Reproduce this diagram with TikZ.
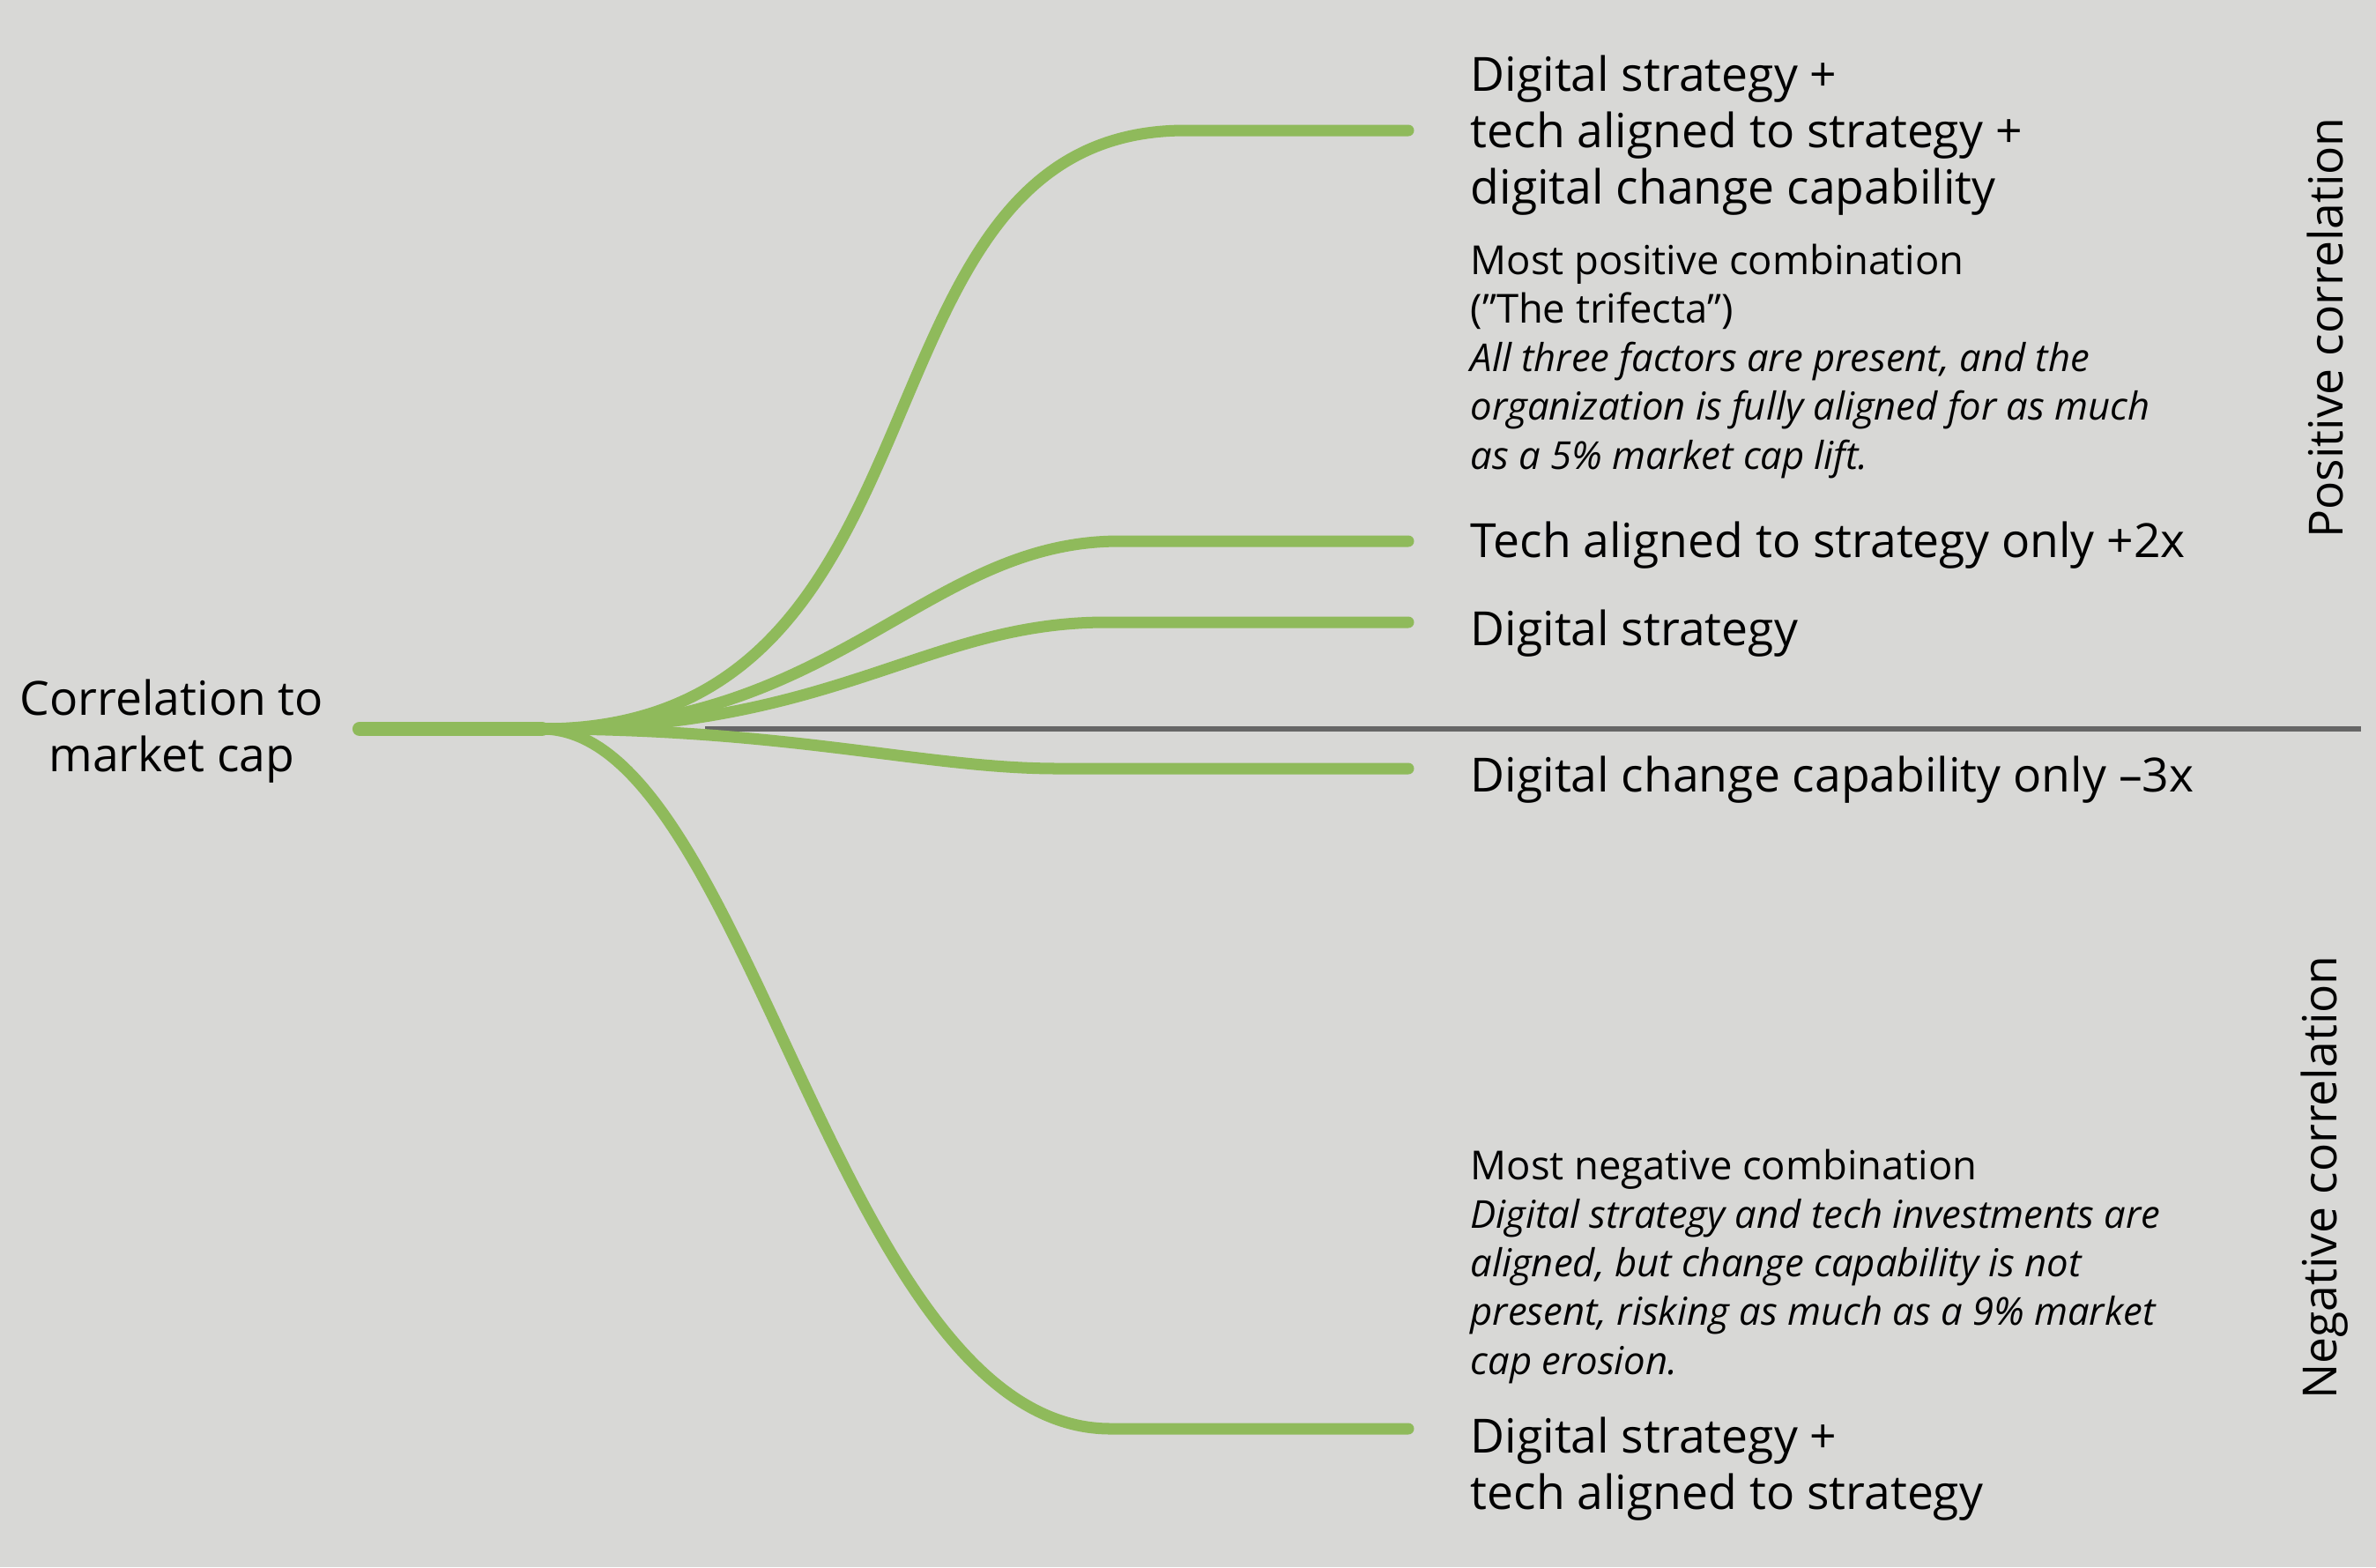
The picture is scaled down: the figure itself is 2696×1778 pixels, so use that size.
\documentclass[tikz,border=0pt]{standalone}
\usepackage{fontspec}
\setmainfont{Open Sans}
\definecolor{leafgreen}{RGB}{143,186,91}
\definecolor{bggray}{RGB}{216,216,214}
\definecolor{axisgray}{RGB}{102,102,102}
\newcommand{\noteit}[1]{{\fontsize{12.4}{15.65}\selectfont\itshape #1}}
\tikzset{
  branch/.style={leafgreen, line width=3.7pt, line cap=round},
  bigtext/.style={font=\fontsize{15.2}{18.1}\selectfont, inner sep=0pt, align=left, anchor=base west},
  smalltext/.style={font=\fontsize{12.9}{15.65}\selectfont, inner sep=0pt, align=left, anchor=base west},
}
\begin{document}
\begin{tikzpicture}[x=0.01cm, y=-0.01cm]
		% Background
		\fill[bggray] (0,0) rectangle (2696,1778);
		\useasboundingbox (0,0) rectangle (2696,1778);
		
		% Points of the tree
		\coordinate (root) at (408,827);
		\coordinate (fork) at (615,827);
		\coordinate (endA) at (1598,148);
		\coordinate (endB) at (1598,614);
		\coordinate (endC) at (1598,706);
		\coordinate (endD) at (1598,872);
		\coordinate (endE) at (1598,1621);
		\coordinate (zeroL) at (800,827);
		\coordinate (zeroR) at (2679,827);
		
		% Zero line
		\draw[axisgray, line width=1.5pt] (zeroL) -- (zeroR);
		
		% Trunk
		\draw[branch, line width=4.6pt] (root) -- (fork);
		
		% Branches
		\draw[branch] (fork) .. controls (1100,827) and (950,148) .. (1345,148) -- (endA);
		\draw[branch] (fork) .. controls (950,827) and (1050,614) .. (1270,614) -- (endB);
		\draw[branch] (fork) .. controls (950,827) and (1050,706) .. (1255,706) -- (endC);
		\draw[branch] (fork) .. controls (900,827) and (1050,872) .. (1200,872) -- (endD);
		\draw[branch] (fork) .. controls (850,827) and (950,1621) .. (1260,1621) -- (endE);
		
		% Labels (base = last line)
		\node[bigtext, align=center, anchor=base] (rootlabel) at (195,875) {Correlation to\\market cap};
		\node[bigtext] (trifecta) at (1668,231) {Digital strategy +\\tech aligned to strategy +\\digital change capability};
		\node[smalltext] (trifectanote) at (1668,532) {Most positive combination\\(”The trifecta”)\\\noteit{All three factors are present, and the}\\\noteit{organization is fully aligned for as much}\\\noteit{as a 5\% market cap lift.}};
		\node[bigtext] (techonly) at (1668,632) {Tech aligned to strategy only +2x};
		\node[bigtext] (digonly) at (1668,732) {Digital strategy};
		\node[bigtext] (changeonly) at (1668,898) {Digital change capability only –3x};
		\node[smalltext] (negnote) at (1668,1559) {Most negative combination\\\noteit{Digital strategy and tech investments are}\\\noteit{aligned, but change capability is not}\\\noteit{present, risking as much as a 9\% market}\\\noteit{cap erosion.}};
		\node[bigtext] (negcombo) at (1668,1712) {Digital strategy +\\tech aligned to strategy};
		
		% Side labels
		\node[bigtext, rotate=90, anchor=center] (poslabel) at (2638,372) {Positive correlation};
		\node[bigtext, rotate=90, anchor=center] (neglabel) at (2638,1336) {Negative correlation};
	\end{tikzpicture}
\end{document}
